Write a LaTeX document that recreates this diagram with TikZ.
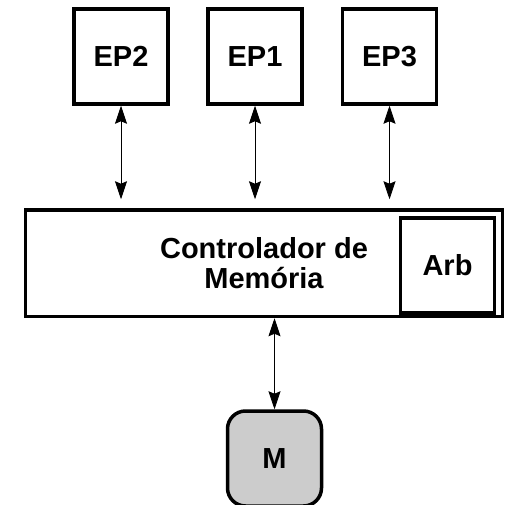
\documentclass[tikz,border=0pt]{standalone}
\usepackage{fontspec}
\setmainfont{Liberation Sans}
\usetikzlibrary{positioning,arrows.meta,calc}
\tikzset{
  unit/.style={rectangle,draw,line width=3.5pt,minimum width=94pt,minimum height=95pt,
               inner sep=0pt,font=\fontsize{29}{31}\selectfont\bfseries},
  ctrl/.style={rectangle,draw,line width=3.5pt,minimum width=477pt,minimum height=106.5pt,
               inner sep=0pt,align=center,font=\fontsize{29}{30}\selectfont\bfseries},
  mem/.style={unit,rounded corners=18pt,fill=gray!40},
  link/.style={{Stealth[length=18pt,width=12pt,inset=2.5pt]}-{Stealth[length=18pt,width=12pt,inset=2.5pt]},line width=0.8pt},
}
\begin{document}
\begin{tikzpicture}[x=1pt,y=-1pt]
  \useasboundingbox (0,0) rectangle (506,505);
  % ---- processing elements ----
  \node[unit] (ep2) at (121,56.5) {EP2};
  \node[unit] (ep1) at (255,56.5) {EP1};
  \node[unit] (ep3) at (389.5,56.5) {EP3};
  % ---- memory controller ----
  \node[ctrl] (mc) at (264,263.25) {Controlador de\\Memória};
  \node[unit] (arb) at (447.5,265.5) {Arb};
  % ---- memory ----
  \node[mem] (m) at (274.5,458.5) {M};
  % ---- edges ----
  \draw[link,shorten >=9pt] (ep2.south) -- (ep2.south |- mc.north);
  \draw[link,shorten >=9pt] (ep1.south) -- (ep1.south |- mc.north);
  \draw[link,shorten >=9pt] (ep3.south) -- (ep3.south |- mc.north);
  \draw[link] (mc.south -| m.north) -- (m.north);
\end{tikzpicture}
\end{document}
